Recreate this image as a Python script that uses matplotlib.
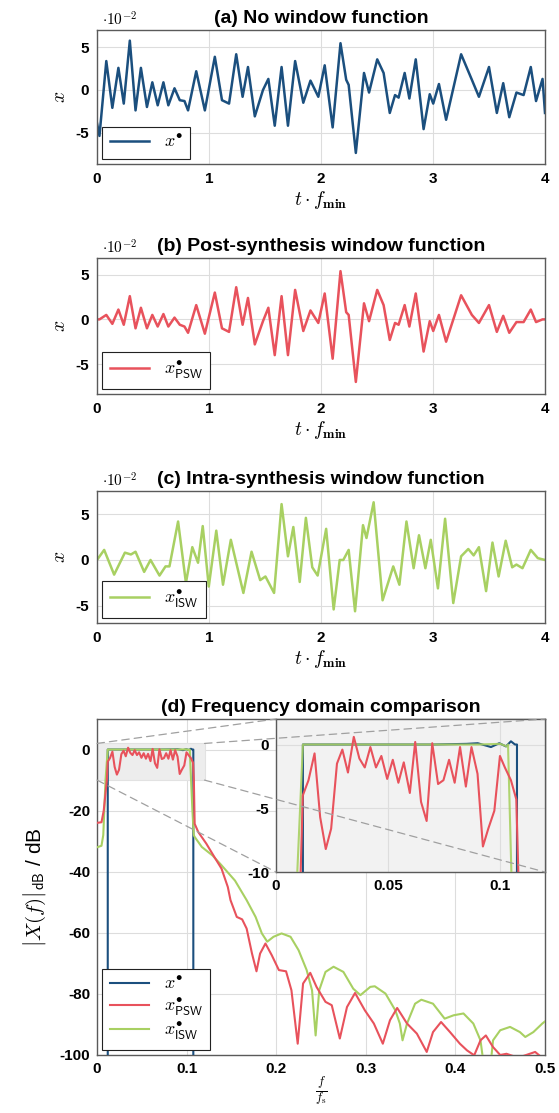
import numpy as np
import matplotlib
matplotlib.use("Agg")
import matplotlib.pyplot as plt
from matplotlib.patches import Rectangle, ConnectionPatch

plt.rcParams["font.family"] = ["Liberation Sans", "DejaVu Sans"]
plt.rcParams["font.weight"] = "bold"
plt.rcParams["mathtext.fontset"] = "cm"
plt.rcParams["axes.unicode_minus"] = False

BLUE = "#1b4f7e"
RED = "#e8525c"
GREEN = "#a8d062"

# ---- time domain (values in units of 1e-2) ----
t_ab = [0.0, 0.022, 0.083, 0.137, 0.191, 0.239, 0.293, 0.344, 0.392, 0.446,
        0.494, 0.542, 0.593, 0.637, 0.692, 0.739, 0.781, 0.813, 0.886, 0.963,
        1.052, 1.116, 1.179, 1.243, 1.300, 1.348, 1.409, 1.482, 1.530, 1.587,
        1.648, 1.705, 1.769, 1.842, 1.906, 1.976, 2.033, 2.104, 2.174, 2.225,
        2.247, 2.311, 2.384, 2.429, 2.502, 2.559, 2.614, 2.661, 2.693, 2.747,
        2.789, 2.846, 2.916, 2.971, 3.002, 3.053, 3.117, 3.251, 3.347, 3.410,
        3.500, 3.570, 3.627, 3.681, 3.745, 3.809, 3.873, 3.920, 3.978, 4.0]
x_nw = [-3.9, -5.4, 3.4, -2.1, 2.6, -1.6, 5.8, -2.4, 2.6, -2.0,
        0.9, -1.8, 0.9, -1.8, 0.2, -1.2, -1.3, -2.4, 2.2, -2.4,
        3.9, -1.2, -1.6, 4.2, -0.8, 2.7, -3.1, 0.0, 1.3, -4.2,
        2.7, -4.2, 3.4, -1.5, 1.1, -0.8, 2.9, -4.4, 5.5, 1.2,
        0.6, -7.4, 2.0, -0.3, 3.6, 2.0, -2.7, -0.6, -0.9, 2.0,
        -1.0, 3.6, -4.6, -0.5, -1.6, 0.7, -3.5, 4.2, 1.2, -0.8,
        2.7, -2.7, 0.8, -3.2, -0.3, -0.6, 2.7, -1.3, 1.3, -2.7]
x_psw = [0.0, 0.0, 0.5, -0.5, 1.1, -0.6, 2.6, -1.0, 1.3, -1.0,
         0.5, -0.8, 0.6, -0.8, 0.2, -0.6, -0.8, -1.5, 1.6, -1.6,
         3.0, -1.0, -1.4, 3.6, -0.6, 2.4, -2.8, -0.2, 1.3, -4.0,
         2.6, -4.0, 3.3, -1.3, 1.0, -0.4, 2.9, -4.4, 5.4, 0.8,
         0.5, -7.0, 1.8, -0.2, 3.3, 1.6, -2.3, -0.4, -0.6, 1.6,
         -0.8, 2.9, -3.6, -0.2, -1.3, 0.5, -2.5, 2.7, 0.5, -0.4,
         1.6, -1.4, 0.4, -1.5, -0.3, -0.3, 1.1, -0.3, 0.0, 0.0]
t_c = [0.0, 0.064, 0.153, 0.249, 0.303, 0.344, 0.421, 0.478, 0.558, 0.612,
       0.647, 0.724, 0.794, 0.851, 0.902, 0.944, 0.998, 1.065, 1.125, 1.195,
       1.307, 1.380, 1.457, 1.504, 1.581, 1.648, 1.705, 1.753, 1.810, 1.865,
       1.922, 1.970, 2.046, 2.113, 2.167, 2.199, 2.247, 2.304, 2.375, 2.406,
       2.470, 2.550, 2.645, 2.700, 2.763, 2.827, 2.875, 2.932, 2.980, 3.044,
       3.108, 3.181, 3.251, 3.315, 3.363, 3.410, 3.474, 3.531, 3.586, 3.649,
       3.707, 3.745, 3.799, 3.873, 3.936, 4.0]
x_isw = [0.0, 1.1, -1.6, 0.8, 0.6, 0.9, -1.3, 0.0, -1.7, -0.7,
         -0.7, 4.2, -2.5, 1.4, -0.3, 3.7, -2.9, 3.2, -2.7, 2.2,
         -3.6, 0.9, -2.2, -1.8, -3.6, 6.1, 0.4, 3.6, -2.4, 4.6,
         -0.8, -1.7, 3.4, -5.4, 0.0, 0.0, 1.1, -5.6, 3.8, 2.4,
         6.3, -4.4, -0.7, -2.7, 4.2, -0.9, 2.7, -0.9, 2.2, -3.1,
         4.5, -4.7, 0.4, 1.2, 0.5, 1.4, -3.4, 1.9, -1.8, 2.1,
         -0.8, -0.5, -0.9, 1.1, 0.2, 0.0]

t_ticks = [0, 1, 2, 3, 4]
t_ticklabels = ["0", "1", "2", "3", "4"]
x_ticks = [-5, 0, 5]
x_ticklabels = ["-5", "0", "5"]

# ---- frequency domain (dB) ----
f_nw = [0.012, 0.012, 0.03, 0.05, 0.07, 0.085, 0.090, 0.0959, 0.0996, 0.1026,
        0.1048, 0.1066, 0.1075, 0.1075]
db_nw = [-300, 0.0, 0.0, 0.0, 0.0, 0.05, 0.1, -0.2, 0.1, -0.15,
         0.25, 0.0, 0.0, -300]
f_psw = [0.0, 0.005, 0.0075, 0.011, 0.01195, 0.0145, 0.0172, 0.0197, 0.0222, 0.0246,
         0.0272, 0.0296, 0.0321, 0.0347, 0.0372, 0.0396, 0.0421, 0.0446, 0.0470, 0.0496,
         0.0521, 0.0546, 0.0570, 0.0597, 0.0621, 0.0647, 0.0672, 0.0697, 0.0723, 0.0747,
         0.0772, 0.0797, 0.0821, 0.0847, 0.0872, 0.0899, 0.0923, 0.0947, 0.0974, 0.0999,
         0.1021, 0.1048, 0.1072, 0.1081, 0.109, 0.113, 0.122, 0.130, 0.139, 0.146,
         0.149, 0.156, 0.162, 0.167, 0.173, 0.178, 0.182, 0.188, 0.195, 0.203,
         0.211, 0.217, 0.224, 0.230, 0.238, 0.245, 0.255, 0.262, 0.271, 0.279,
         0.288, 0.299, 0.309, 0.319, 0.327, 0.335, 0.346, 0.357, 0.368, 0.375,
         0.384, 0.394, 0.405, 0.413, 0.421, 0.428, 0.434, 0.442, 0.450, 0.457,
         0.465, 0.472, 0.483, 0.489, 0.496, 0.5]
db_psw = [-24.0, -23.8, -20.0, -10.0, -4.0, -2.8, -0.7, -5.7, -8.2, -6.6,
          -1.5, -0.4, -2.2, 0.6, -1.1, -1.8, -0.2, -1.8, -0.9, -2.7,
          -1.2, -3.0, -1.4, -3.8, 0.2, -4.5, -6.0, 0.1, -3.1, -2.8,
          -1.2, -3.0, -0.2, -3.3, -0.2, -2.3, -8.0, -6.6, -5.2, -0.9,
          -1.8, -2.8, -4.3, -10.0, -24.3, -27.0, -30.8, -34.7, -39.0, -45.0,
          -49.3, -54.8, -55.6, -58.6, -66.8, -72.6, -66.8, -63.5, -67.3, -72.2,
          -72.6, -78.8, -96.3, -76.6, -73.1, -77.7, -82.6, -83.7, -94.6, -84.3,
          -79.7, -85.4, -89.7, -96.3, -88.6, -84.6, -89.7, -93.0, -99.0, -92.5,
          -89.2, -92.5, -96.3, -98.5, -100.1, -95.2, -93.6, -97.4, -100.0, -99.6,
          -100.4, -100.7, -99.6, -99.0, -100.7, -101.0]
f_isw = [0.0, 0.005, 0.007, 0.0095, 0.012, 0.03, 0.05, 0.07, 0.09, 0.100,
         0.103, 0.1035, 0.105, 0.1065, 0.108, 0.109, 0.117, 0.129, 0.139, 0.154,
         0.167, 0.177, 0.184, 0.190, 0.197, 0.206, 0.216, 0.225, 0.234, 0.240,
         0.244, 0.248, 0.255, 0.264, 0.275, 0.286, 0.294, 0.305, 0.310, 0.322,
         0.333, 0.338, 0.341, 0.346, 0.355, 0.362, 0.375, 0.388, 0.398, 0.409,
         0.420, 0.428, 0.432, 0.439, 0.442, 0.450, 0.461, 0.472, 0.478, 0.487,
         0.497, 0.5]
db_isw = [-32.0, -31.5, -28.0, -10.0, 0.0, 0.0, 0.0, 0.0, 0.0, 0.05,
          -0.15, 0.0, -10.0, -20.0, -28.0, -28.6, -31.9, -34.7, -37.9, -42.9,
          -49.3, -54.8, -60.2, -62.9, -61.3, -60.2, -61.3, -65.7, -72.2, -78.8,
          -93.6, -78.8, -72.8, -71.1, -72.8, -78.3, -80.4, -77.7, -77.5, -79.9,
          -85.4, -89.7, -95.2, -89.7, -83.2, -81.9, -83.2, -88.1, -87.0, -86.4,
          -89.7, -95.2, -104.0, -104.0, -95.2, -91.9, -90.8, -92.5, -94.1, -92.5,
          -89.7, -89.0]

f_ticks = [0, 0.1, 0.2, 0.3, 0.4, 0.5]
f_ticklabels = ["0", "0.1", "0.2", "0.3", "0.4", "0.5"]
db_ticks = [-100, -80, -60, -40, -20, 0]
db_ticklabels = ["-100", "-80", "-60", "-40", "-20", "0"]
zoom_xticks = [0, 0.05, 0.1]
zoom_xticklabels = ["0", "0.05", "0.1"]
zoom_yticks = [-10, -5, 0]
zoom_yticklabels = ["-10", "-5", "0"]
zoom_xlim = (0, 0.12)
zoom_ylim = (-10, 2)


W, H = 559, 1113
fig = plt.figure(figsize=(W / 100, H / 100), dpi=100)


def px_rect(left, top, right, bottom):
    return [left / W, 1 - bottom / H, (right - left) / W, (bottom - top) / H]


def style(ax):
    ax.grid(True, color="#dddddd", lw=0.8)
    ax.set_axisbelow(True)
    ax.tick_params(length=0, labelsize=11, pad=6)
    for s in ax.spines.values():
        s.set_color("#5a5a5a")
        s.set_linewidth(1.0)


def framed_legend(ax, **kw):
    leg = ax.legend(loc="lower left", fontsize=13, fancybox=False, framealpha=1,
                    edgecolor="#222222", handlelength=2.2, borderaxespad=0.3, **kw)
    leg.get_frame().set_linewidth(0.8)
    return leg


def time_panel(rect, t, x, color, label, title, ylim):
    ax = fig.add_axes(rect)
    ax.plot(t, x, color=color, lw=1.8, label=label, solid_joinstyle="round")
    ax.set_xlim(0, 4)
    ax.set_ylim(*ylim)
    ax.set_xticks(t_ticks, t_ticklabels)
    ax.set_yticks(x_ticks, x_ticklabels)
    style(ax)
    ax.set_title(title, fontsize=14, fontweight="bold", pad=5)
    ax.text(0.012, 1.012, r"$\cdot10^{-2}$", transform=ax.transAxes,
            fontsize=11, ha="left", va="bottom")
    ax.set_xlabel(r"$t\cdot f_{\mathbf{min}}$", fontsize=14, labelpad=2)
    ax.set_ylabel(r"$x$", fontsize=14, labelpad=4)
    framed_legend(ax)
    return ax


time_panel(px_rect(97, 30, 545, 164), t_ab, x_nw, BLUE, r"$x^{\bullet}$",
           "(a) No window function", (-8.7, 7.05))
time_panel(px_rect(97, 258, 545, 394), t_ab, x_psw, RED,
           r"$x^{\bullet}_{\mathsf{PSW}}$", "(b) Post-synthesis window function",
           (-8.35, 6.87))
time_panel(px_rect(97, 491, 545, 623), t_c, x_isw, GREEN,
           r"$x^{\bullet}_{\mathsf{ISW}}$", "(c) Intra-synthesis window function",
           (-6.88, 7.53))

# ---- (d) spectrum ----
ax = fig.add_axes(px_rect(97, 719, 545, 1055))
ax.add_patch(Rectangle((zoom_xlim[0], zoom_ylim[0]), zoom_xlim[1] - zoom_xlim[0],
                       zoom_ylim[1] - zoom_ylim[0], facecolor="#ededed",
                       edgecolor="#e2e2e2", lw=0.8, zorder=1))
l1, = ax.plot(f_nw, db_nw, color=BLUE, lw=1.5, zorder=3)
l3, = ax.plot(f_isw, db_isw, color=GREEN, lw=1.5, zorder=4)
l2, = ax.plot(f_psw, db_psw, color=RED, lw=1.5, zorder=5)
ax.set_xlim(0, 0.5)
ax.set_ylim(-100, 10)
ax.set_xticks(f_ticks, f_ticklabels)
ax.set_yticks(db_ticks, db_ticklabels)
style(ax)
ax.tick_params(pad=5)
ax.set_title("(d) Frequency domain comparison", fontsize=14, fontweight="bold", pad=5)
ax.set_xlabel(r"$\frac{f}{f_{\mathrm{s}}}$", fontsize=13, labelpad=-1)
ax.set_ylabel(r"$\left|X(f)\right|_{\mathsf{dB}}$ / dB", fontsize=15, labelpad=8)
leg = ax.legend([l1, l2, l3], [r"$x^{\bullet}$", r"$x^{\bullet}_{\mathsf{PSW}}$",
                               r"$x^{\bullet}_{\mathsf{ISW}}$"],
                loc="lower left", fontsize=13, fancybox=False, framealpha=1,
                edgecolor="#222222", handlelength=2.2, borderaxespad=0.3,
                labelspacing=0.15)
leg.get_frame().set_linewidth(0.8)
leg.set_zorder(6)

axin = fig.add_axes(px_rect(276, 719, 545, 872))
axin.set_facecolor("#f2f2f2")
axin.plot(f_nw, db_nw, color=BLUE, lw=1.5, zorder=3)
axin.plot(f_isw, db_isw, color=GREEN, lw=1.5, zorder=4, alpha=0.9)
axin.plot(f_psw, db_psw, color=RED, lw=1.5, zorder=5)
axin.set_xlim(*zoom_xlim)
axin.set_ylim(*zoom_ylim)
axin.set_xticks(zoom_xticks, zoom_xticklabels)
axin.set_yticks(zoom_yticks, zoom_yticklabels)
style(axin)
axin.tick_params(pad=5)

corners = [((zoom_xlim[0], zoom_ylim[1]), (0, 1)), ((zoom_xlim[1], zoom_ylim[1]), (1, 1)),
           ((zoom_xlim[0], zoom_ylim[0]), (0, 0)), ((zoom_xlim[1], zoom_ylim[0]), (1, 0))]
for a, b in corners:
    con = ConnectionPatch(xyA=a, coordsA=ax.transData, xyB=b, coordsB=axin.transAxes,
                          color="#a0a0a0", lw=0.9, ls=(0, (6, 4)), zorder=10)
    fig.add_artist(con)

fig.savefig("out.png", dpi=100)
